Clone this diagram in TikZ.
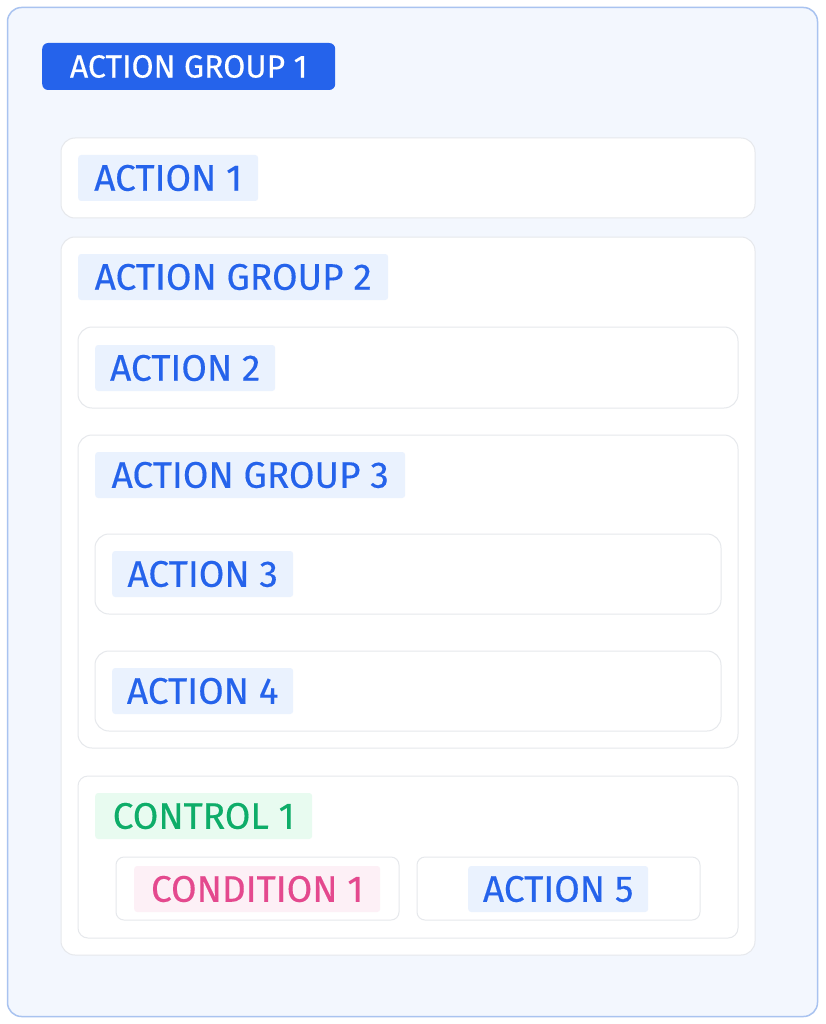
\documentclass[tikz,border=0pt]{standalone}
\usepackage{fontspec}
\setmainfont{Fira Sans}[FakeBold=0.35]
\definecolor{outerfill}{HTML}{F3F7FE}
\definecolor{outerline}{HTML}{A9C3F0}
\definecolor{boxline}{HTML}{E6E8EC}
\definecolor{bluetxt}{HTML}{2563EB}
\definecolor{bluebg}{HTML}{EAF2FE}
\definecolor{greentxt}{HTML}{0EAD69}
\definecolor{greenbg}{HTML}{E8FBF0}
\definecolor{pinktxt}{HTML}{E4498E}
\definecolor{pinkbg}{HTML}{FDF0F6}
\tikzset{
  box/.style={draw=boxline, line width=1pt, fill=white, rounded corners=14pt},
  smallbox/.style={draw=boxline, line width=1pt, fill=white, rounded corners=8pt},
  lbl/.style={anchor=west, inner xsep=0pt, inner ysep=0pt, minimum height=46pt, rounded corners=3pt, font=\fontsize{37}{42}\selectfont},
  bluelbl/.style={lbl, fill=bluebg, text=bluetxt},
  greenlbl/.style={lbl, fill=greenbg, text=greentxt},
  pinklbl/.style={lbl, fill=pinkbg, text=pinktxt},
}
\begin{document}
\begin{tikzpicture}[x=1pt,y=-1pt]
\useasboundingbox (0,0) rectangle (825,1024);
\fill[white] (0,0) rectangle (825,1024);
\draw[draw=outerline, line width=1.5pt, fill=outerfill, rounded corners=14pt] (7.5,7.5) rectangle (817.5,1016.5);
\node[lbl, fill=bluetxt, text=white, rounded corners=6pt, minimum width=293pt, minimum height=47pt, font=\fontsize{32}{38}\selectfont] (ag1) at (42,66.5) {ACTION GROUP 1};
% action 1
\draw[box] (61,138) rectangle (755,218);
\node[bluelbl, minimum width=180pt] (a1) at (78,178) {ACTION 1};
% group 2
\draw[box] (61,237) rectangle (755,955);
\node[bluelbl, minimum width=310pt] (ag2) at (78,277) {ACTION GROUP 2};
% action 2
\draw[box] (78,327) rectangle (738,408);
\node[bluelbl, minimum width=180pt] (a2) at (95,368) {ACTION 2};
% group 3
\draw[box] (78,435) rectangle (738,748);
\node[bluelbl, minimum width=310pt] (ag3) at (95,475) {ACTION GROUP 3};
\draw[box] (95,534) rectangle (721,614);
\node[bluelbl, minimum width=181pt] (a3) at (112,574) {ACTION 3};
\draw[box] (95,651) rectangle (721,731);
\node[bluelbl, minimum width=181pt] (a4) at (112,691) {ACTION 4};
% control
\draw[box, rounded corners=10pt] (78,776) rectangle (738,938);
\node[greenlbl, minimum width=217pt] (c1) at (95,816) {CONTROL 1};
\draw[smallbox] (116,857) rectangle (399,920);
\node[pinklbl, minimum width=246pt] (cond1) at (134,889) {CONDITION 1};
\draw[smallbox] (417,857) rectangle (700,920);
\node[bluelbl, minimum width=180pt] (a5) at (468,889) {ACTION 5};
\end{tikzpicture}
\end{document}
